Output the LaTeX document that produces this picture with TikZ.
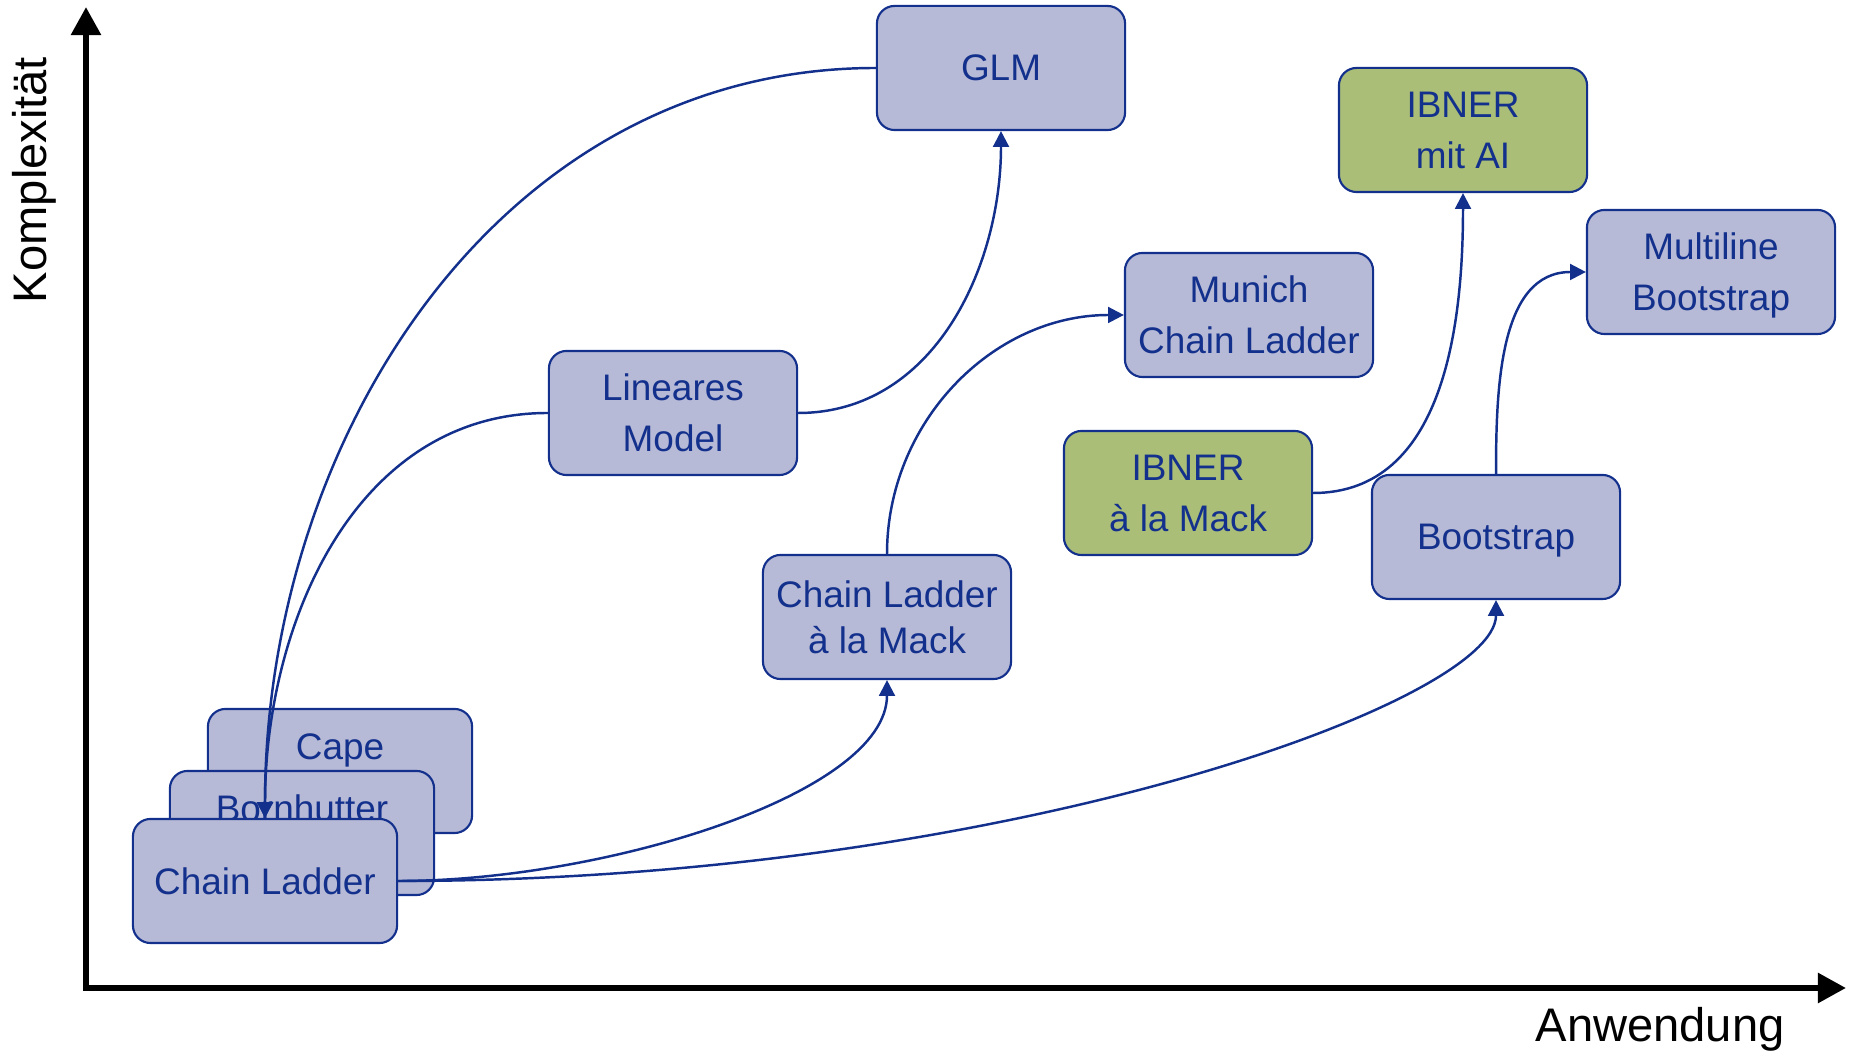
\documentclass[tikz,border=0pt]{standalone}
\usepackage{fontspec}
\setmainfont{Liberation Sans}
\usetikzlibrary{arrows.meta}
\definecolor{ink}{HTML}{12308C}
\definecolor{lilac}{HTML}{B7BAD6}
\definecolor{moss}{HTML}{AABE78}
\tikzset{
  box/.style={draw=ink, fill=lilac, line width=0.6pt, rounded corners=5pt,
    minimum width=2.48cm, minimum height=1.24cm, inner sep=0pt, align=center,
    text depth=0pt, text=ink, font=\fontsize{10.5}{14.5}\selectfont},
  greenbox/.style={box, fill=moss},
  widebox/.style={box, minimum width=2.64cm},
  backbox/.style={text height=7.7pt, text depth=14.5pt},
  link/.style={draw=ink, line width=0.7pt, -{Triangle[length=4.5pt,width=4.5pt]}},
  axis/.style={draw=black, line width=1.8pt, line cap=rect, -{Triangle[length=8pt,width=8.2pt]}},
  lab/.style={text=black, anchor=base, font=\fontsize{13.4}{15}\selectfont},
}
\begin{document}
\begin{tikzpicture}[x=0.01cm, y=0.01cm]
\useasboundingbox (0,0) rectangle (1849,1055);
% axes
\coordinate (O) at (86,67);
\coordinate (ytip) at (86,1048);
\coordinate (xtip) at (1846,67);
\draw[axis] (O) -- (ytip);
\draw[axis] (O) -- (xtip);
\node[lab, rotate=90] (ylab) at (47,875) {Komplexität};
\node[lab] (xlab) at (1660,13) {Anwendung};

% stacked basics, bottom left
\node[widebox, backbox] (cape) at (340,284) {Cape};
\node[widebox, backbox] (bh) at (302,222) {Bornhutter};
\node[widebox] (cl) at (265,174) {Chain Ladder};

% methods
\node[box] (glm) at (1001,987) {GLM};
\node[box] (lm) at (673,642) {Lineares\\Model};
\node[box, font=\fontsize{10.5}{13}\selectfont] (clmack) at (887,438) {Chain Ladder\\à la Mack};
\node[box] (mcl) at (1249,740) {Munich\\Chain Ladder};
\node[greenbox] (ibmack) at (1188,562) {IBNER\\à la Mack};
\node[greenbox] (ibai) at (1463,925) {IBNER\\mit AI};
\node[box] (boot) at (1496,518) {Bootstrap};
\node[box] (mboot) at (1711,783) {Multiline\\Bootstrap};

% connectors
\draw[link] (glm.west) to[out=180,in=90] (cl.north);
\draw[link] (lm.west) to[out=180,in=90] (cl.north);
\draw[link] (lm.east) to[out=0,in=-90] (glm.south);
\draw[link] (cl.east) to[out=0,in=-90,in looseness=0.55] (clmack.south);
\draw[link] (cl.east) to[out=0,in=-90,out looseness=1.36,in looseness=0.23] (boot.south);
\draw[link] (clmack.north) to[out=90,in=180] (mcl.west);
\draw[link] (ibmack.east) to[out=0,in=-90] (ibai.south);
\draw[link] (boot.north) to[out=90,in=180] (mboot.west);
\end{tikzpicture}
\end{document}
